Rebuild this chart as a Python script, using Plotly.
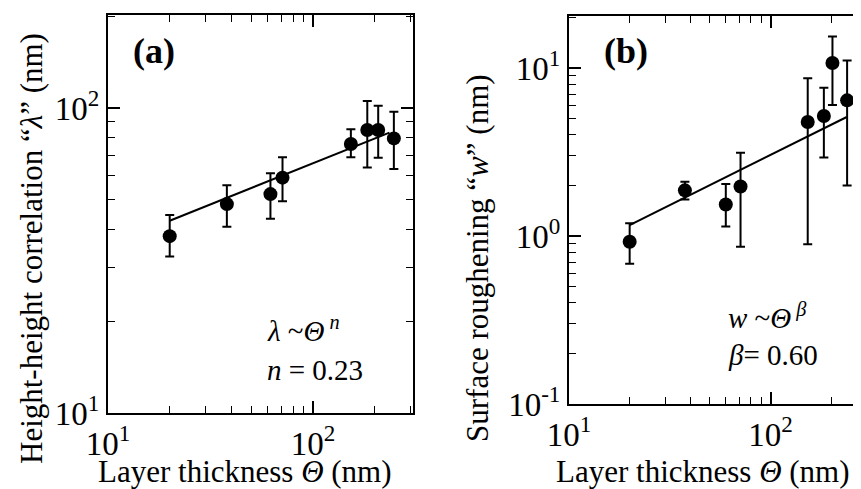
import plotly.graph_objects as go

# ---------------- data ----------------
# panel (a): height-height correlation lambda vs layer thickness
thick_a = [20, 38, 62, 71, 153, 184, 208, 248]
lam = [38.0, 48.4, 52.2, 59.1, 76.2, 84.7, 84.7, 79.5]
lam_hi = [44.6, 55.8, 61.1, 68.9, 85.2, 105.5, 101.8, 97.3]
lam_lo = [32.6, 40.8, 43.3, 49.5, 68.9, 63.8, 68.7, 63.1]
fit_a_x = [20, 236]
fit_a_y = [42.7, 83.0]

# panel (b): surface roughening w vs layer thickness
thick_b = [20, 37.6, 60, 71, 153, 184, 203, 240]
rough = [0.925, 1.87, 1.54, 1.97, 4.77, 5.18, 10.7, 6.42]
rough_hi = [1.19, 2.10, 2.04, 3.13, 8.68, 7.63, 15.4, 11.1]
rough_lo = [0.684, 1.65, 1.14, 0.864, 0.892, 2.93, 6.03, 2.00]
fit_b_x = [20, 239]
fit_b_y = [1.16, 5.11]

# tick labels
x_major = [10, 100]
x_major_text = ["10<sup>1</sup>", "10<sup>2</sup>"]
ya_major = [10, 100]
ya_major_text = ["10<sup>1</sup>", "10<sup>2</sup>"]
yb_major = [0.1, 1, 10]
yb_major_text = ["10<sup>-1</sup>", "10<sup>0</sup>", "10<sup>1</sup>"]
minor_ticks = [2, 3, 4, 5, 6, 7, 8, 9, 20, 30, 40, 50, 60, 70, 80, 90,
               200, 300, 400, 500]
minor_ticks_b = [0.2, 0.3, 0.4, 0.5, 0.6, 0.7, 0.8, 0.9] + minor_ticks

# ---------------- layout helpers ----------------
W, H = 861, 489
OFF = 8          # page body margin: the figure sits 8 px in from the corner
FONT = "Liberation Serif"


def px(x):
    return (x - OFF) / W


def py(y):
    return 1 - (y - OFF) / H


fig = go.Figure()

fig.add_trace(go.Scatter(
    x=fit_a_x, y=fit_a_y, mode="lines",
    line=dict(color="black", width=2), xaxis="x", yaxis="y",
    showlegend=False))
fig.add_trace(go.Scatter(
    x=thick_a, y=lam, mode="markers",
    marker=dict(color="black", size=14),
    error_y=dict(type="data", symmetric=False,
                 array=[h - v for h, v in zip(lam_hi, lam)],
                 arrayminus=[v - l for v, l in zip(lam, lam_lo)],
                 color="black", thickness=2, width=4.5),
    xaxis="x", yaxis="y", showlegend=False))

fig.add_trace(go.Scatter(
    x=fit_b_x, y=fit_b_y, mode="lines",
    line=dict(color="black", width=2), xaxis="x2", yaxis="y2",
    showlegend=False))
fig.add_trace(go.Scatter(
    x=thick_b, y=rough, mode="markers",
    marker=dict(color="black", size=14),
    error_y=dict(type="data", symmetric=False,
                 array=[h - v for h, v in zip(rough_hi, rough)],
                 arrayminus=[v - l for v, l in zip(rough, rough_lo)],
                 color="black", thickness=2, width=4.5),
    xaxis="x2", yaxis="y2", showlegend=False))

tickfont = dict(family=FONT, size=33, color="black")

common = dict(
    type="log", showgrid=False, zeroline=False, automargin=False,
    showline=True, linecolor="black", linewidth=2,
    ticks="inside", ticklen=12, tickwidth=1.6, tickcolor="black",
    tickfont=tickfont, tickmode="array", mirror="ticks",
)

minor_style = dict(tickmode="array", ticks="inside", ticklen=7,
                   tickwidth=1.4, tickcolor="black", showgrid=False)

# frame positions in the reference picture (pixels)
ax_a_x0, ax_a_x1 = 108, 413
ax_a_y0, ax_a_y1 = 15, 413
ax_b_x0, ax_b_x1 = 569, 866   # right edge lies just beyond the picture
ax_b_y0, ax_b_y1 = 16, 404

fig.update_layout(
    template="none",
    width=W, height=H,
    margin=dict(l=0, r=0, t=0, b=0, pad=0, autoexpand=False),
    paper_bgcolor="white", plot_bgcolor="white",
    showlegend=False,
    font=dict(family=FONT, color="black"),
    xaxis=dict(common, domain=[px(ax_a_x0), px(ax_a_x1)],
               range=[1, 1 + (ax_a_x1 - ax_a_x0) / 205.0],
               tickvals=x_major, ticktext=x_major_text, anchor="y",
               minor=dict(minor_style, tickvals=minor_ticks)),
    yaxis=dict(common, domain=[py(ax_a_y1), py(ax_a_y0)],
               range=[1, 1 + (ax_a_y1 - ax_a_y0) / 305.0],
               tickvals=ya_major, ticktext=ya_major_text, anchor="x",
               minor=dict(minor_style, tickvals=minor_ticks)),
    xaxis2=dict(common, domain=[px(ax_b_x0), px(ax_b_x1)],
                range=[1, 1 + (ax_b_x1 - ax_b_x0) / 201.5],
                tickvals=x_major, ticktext=x_major_text, anchor="y2",
                minor=dict(minor_style, tickvals=minor_ticks)),
    yaxis2=dict(common, domain=[py(ax_b_y1), py(ax_b_y0)],
                range=[-1, -1 + (ax_b_y1 - ax_b_y0) / 168.0],
                tickvals=yb_major, ticktext=yb_major_text, anchor="x2",
                minor=dict(minor_style, tickvals=minor_ticks_b)),
)

ann = []


def add_text(text, x, y, size, xanchor="left", angle=0, bold=False):
    ann.append(dict(
        text=f"<b>{text}</b>" if bold else text,
        x=px(x), y=py(y), xref="paper", yref="paper",
        xanchor=xanchor, yanchor="middle", showarrow=False,
        textangle=angle,
        font=dict(family=FONT, size=size, color="black")))


# panel labels
add_text("(a)", 154, 51, 36, xanchor="center", bold=True)
add_text("(b)", 626, 51, 36, xanchor="center", bold=True)
# scaling relations
add_text("<i>λ</i> ~<i>Θ</i><sup> <i>n</i></sup>", 265, 329, 29)
add_text("<i>n</i> = 0.23", 265, 370, 29)
add_text("<i>w</i> ~<i>Θ</i><sup> <i>β</i></sup>", 726, 316, 29)
add_text("<i>β</i>= 0.60", 726, 355, 29)
# axis titles
add_text("Layer thickness <i>Θ</i> (nm)", 245, 471, 31, xanchor="center")
add_text("Layer thickness <i>Θ</i> (nm)", 703, 471, 31, xanchor="center")
add_text("Height-height correlation “<i>λ</i>” (nm)", 31, 249, 31,
         xanchor="center", angle=-90)
add_text("Surface roughening “<i>w</i>” (nm)", 477, 258, 31,
         xanchor="center", angle=-90)

fig.update_layout(annotations=ann)

fig.write_html("out.html")
